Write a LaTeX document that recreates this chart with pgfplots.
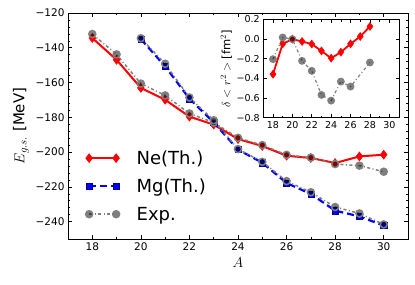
\documentclass[border=0pt]{standalone}
\usepackage{fontspec}
\setmainfont{DejaVu Sans}
\setsansfont{DejaVu Sans}
\usepackage{pgfplots}
\pgfplotsset{compat=1.18}
\usetikzlibrary{calc}
\definecolor{expgray}{gray}{0.5}
\pgfplotsset{
  neth/.style={red, line width=2pt, mark=diamond*, mark size=4.5pt, mark options={solid, fill=red, draw=red, line width=0.5pt}},
  mgth/.style={blue, line width=2.2pt, dash pattern=on 7pt off 4pt, mark=square*, mark size=3.1pt, mark options={solid, fill=blue, draw=blue!60!black, line width=0.5pt}},
  expst/.style={expgray, line width=1.5pt, dash pattern=on 3pt off 2.5pt on 1pt off 2.5pt, mark=*, mark size=3.5pt, mark options={solid, fill=black, draw=none, fill opacity=0.5}},
  legend image code/.code={\draw[mark repeat=1,mark phase=1,#1] plot coordinates {(0pt,0pt) (27pt,0pt)};},
}
\begin{document}
\begin{tikzpicture}
\begin{axis}[name=main, scale only axis, width=340pt, height=226pt,
  xmin=17, xmax=31, ymin=-250, ymax=-120,
  xtick={18,20,...,30}, minor x tick num=1,
  ytick={-240,-220,-200,-180,-160,-140,-120},
  yticklabels={−240,−220,−200,−180,−160,−140,−120},
  minor y tick num=4,
  /pgf/number format/assume math mode=true,
  tick label style={font=\fontsize{10.5}{12}\selectfont},
  xlabel={$A$}, ylabel={$E_{g.s.}$ [MeV]},
  label style={font=\fontsize{15}{18}\selectfont},
  tick align=inside, major tick length=4pt, minor tick length=2pt,
  axis line style={line width=0.8pt},
  every tick/.style={black, line width=0.6pt},
  legend style={at={(axis description cs:0.0425,0.41)}, anchor=north west, draw=none, fill=none,
    font=\fontsize{18}{21}\selectfont, row sep=9pt, column sep=15pt},
  legend cell align=left,
]
\addplot[neth] coordinates {(18,-134.4) (19,-146.9) (20,-163.1) (21,-169.9) (22,-179.6) (23,-184.2) (24,-192.5) (25,-196.5) (26,-202.1) (27,-203.4) (28,-206.3) (29,-202.5) (30,-201.5)};
\addlegendentry{Ne(Th.)}
\addplot[mgth] coordinates {(20,-135.0) (21,-150.7) (22,-169.3) (23,-182.9) (24,-198.6) (25,-206.1) (26,-217.8) (27,-224.1) (28,-233.7) (29,-237.0) (30,-242.3)};
\addlegendentry{Mg(Th.)}
\addplot[expst] coordinates {(18,-132.1) (19,-143.8) (20,-160.6) (21,-167.4) (22,-177.8) (23,-183.0) (24,-191.8) (25,-196.0) (26,-201.6) (27,-203.2) (28,-206.9) (29,-207.8) (30,-211.3)};
\addlegendentry{Exp.}
\addplot[expst, forget plot] coordinates {(20,-134.5) (21,-149.2) (22,-168.6) (23,-181.7) (24,-198.3) (25,-205.6) (26,-216.7) (27,-223.1) (28,-231.6) (29,-235.3) (30,-241.6)};
\end{axis}
\begin{axis}[at={($(main.north west)+(195.3pt,-6.5pt)$)}, anchor=north west,
  scale only axis, width=135.7pt, height=98.2pt,
  xmin=17, xmax=31, ymin=-0.8, ymax=0.2,
  xtick={18,20,...,30}, minor x tick num=1,
  ytick={-0.8,-0.6,-0.4,-0.2,0,0.2},
  yticklabels={−0.8,−0.6,−0.4,−0.2,0.0,0.2},
  /pgf/number format/assume math mode=true,
  tick label style={font=\fontsize{9.5}{11}\selectfont},
  ylabel={$\delta <r^2>$ [fm$^2$]},
  label style={font=\fontsize{11.5}{13}\selectfont},
  ylabel style={yshift=-2pt},
  tick align=inside, major tick length=3.5pt, minor tick length=2pt,
  axis line style={line width=0.8pt},
  every tick/.style={black, line width=0.6pt},
]
\addplot[neth, line width=1.8pt, mark size=4pt] coordinates {(18,-0.357) (19,-0.048) (20,0.0) (21,-0.024) (22,-0.05) (23,-0.12) (24,-0.194) (25,-0.133) (26,-0.048) (27,0.027) (28,0.129)};
\addplot[expst, line width=1.2pt, mark size=3.3pt] coordinates {(18,-0.204) (19,0.017) (20,0.0) (21,-0.221) (22,-0.323) (23,-0.568) (24,-0.626) (25,-0.432) (26,-0.483) (28,-0.238)};
\end{axis}
\path ($(main.south west)+(-68pt,-45pt)$) rectangle ($(main.north east)+(7pt,13pt)$);
\end{tikzpicture}
\end{document}
